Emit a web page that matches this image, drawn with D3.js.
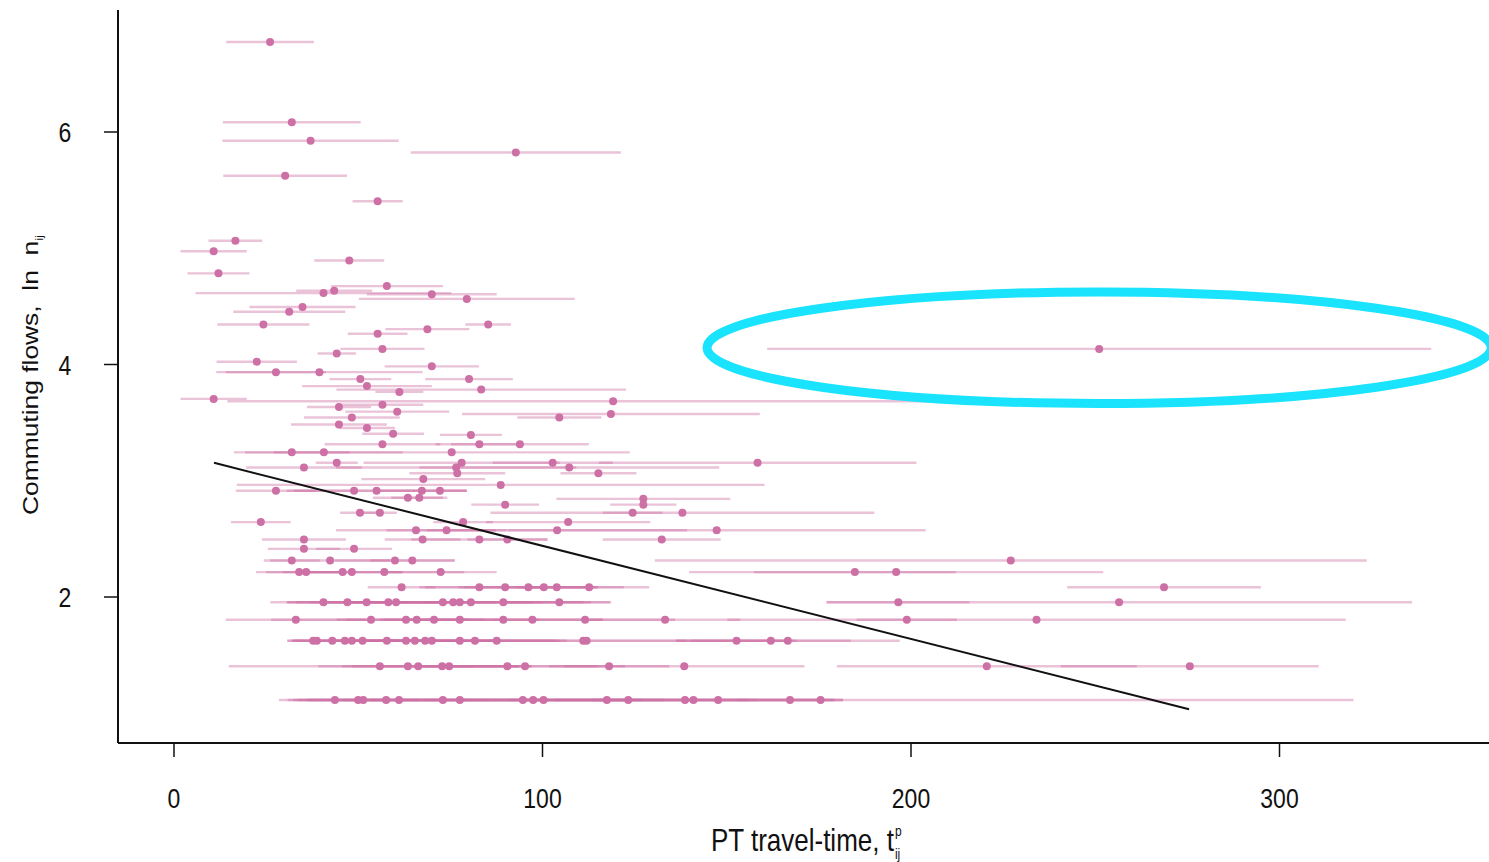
<!DOCTYPE html>
<html>
<head>
<meta charset="utf-8">
<script src="https://cdn.jsdelivr.net/npm/d3@7"></script>
<style>
  body { margin: 0; background: #fff; }
  text { font-family: "Liberation Sans", Arial, sans-serif; fill: #111; }
</style>
</head>
<body>
<div id="chart"></div>
<script>
// PT travel time of each commuting pair (point estimate)
const travelTime = [
  26.2, 32.1, 37.2, 92.9, 30.3, 55.4, 16.8, 10.9, 47.7, 12.2,
  57.9, 40.7, 43.6, 70.1, 79.6, 35.0, 31.4, 24.4, 85.4, 68.9,
  55.4, 56.7, 44.3, 22.6, 70.1, 27.8, 39.6, 50.7, 80.2, 52.5,
  83.5, 61.3, 10.9, 119.3, 44.9, 56.7, 60.7, 118.7, 104.7, 48.4,
  44.9, 52.5, 59.6, 80.7, 56.7, 83.0, 94.0, 32.1, 40.8, 75.5,
  44.3, 78.2, 102.9, 158.5, 35.4, 76.7, 107.4, 77.0, 115.3, 67.8,
  88.8, 27.8, 49.0, 55.1, 67.4, 72.3, 63.6, 66.7, 127.5, 90.0,
  127.5, 50.6, 56.0, 124.6, 138.1, 23.7, 78.6, 107.1, 65.8, 74.1,
  104.1, 147.4, 35.4, 67.6, 83.0, 90.6, 132.5, 35.4, 49.0, 32.1,
  42.5, 60.1, 64.8, 227.2, 34.1, 36.0, 45.9, 48.4, 57.2, 72.5,
  184.9, 196.1, 61.9, 83.0, 90.0, 96.3, 100.5, 104.0, 112.8, 268.8,
  40.7, 47.2, 52.4, 58.3, 60.4, 73.1, 75.9, 77.7, 80.7, 89.5,
  104.7, 196.7, 256.6, 33.2, 53.6, 63.1, 66.0, 70.7, 77.7, 89.5,
  97.4, 111.7, 133.4, 199.0, 234.2, 37.9, 38.9, 43.1, 46.5, 48.4,
  51.3, 57.9, 63.1, 65.5, 68.3, 70.1, 77.7, 81.8, 87.7, 111.2,
  112.1, 152.8, 162.1, 166.7, 56.0, 63.6, 66.4, 72.9, 74.8, 90.6,
  95.4, 118.2, 138.6, 220.7, 275.8, 43.8, 50.1, 51.5, 57.7, 61.2,
  73.1, 77.7, 94.8, 97.6, 100.4, 117.6, 123.4, 138.8, 141.1, 147.8,
  167.3, 175.6, 251.2
];

// log commuting flow, ln n_ij
const lnFlow = [
  6.77, 6.08, 5.92, 5.82, 5.62, 5.40, 5.06, 4.97, 4.89, 4.78,
  4.67, 4.61, 4.63, 4.60, 4.56, 4.49, 4.45, 4.34, 4.34, 4.30,
  4.26, 4.13, 4.09, 4.02, 3.98, 3.93, 3.93, 3.87, 3.87, 3.81,
  3.78, 3.76, 3.70, 3.68, 3.63, 3.65, 3.59, 3.57, 3.54, 3.54,
  3.48, 3.45, 3.40, 3.39, 3.31, 3.31, 3.31, 3.24, 3.24, 3.24,
  3.15, 3.15, 3.15, 3.15, 3.11, 3.11, 3.11, 3.06, 3.06, 3.01,
  2.96, 2.91, 2.91, 2.91, 2.91, 2.91, 2.85, 2.85, 2.84, 2.79,
  2.79, 2.72, 2.72, 2.72, 2.72, 2.64, 2.64, 2.64, 2.57, 2.57,
  2.57, 2.57, 2.49, 2.49, 2.49, 2.49, 2.49, 2.41, 2.41, 2.31,
  2.31, 2.31, 2.31, 2.31, 2.21, 2.21, 2.21, 2.21, 2.21, 2.21,
  2.21, 2.21, 2.08, 2.08, 2.08, 2.08, 2.08, 2.08, 2.08, 2.08,
  1.95, 1.95, 1.95, 1.95, 1.95, 1.95, 1.95, 1.95, 1.95, 1.95,
  1.95, 1.95, 1.95, 1.80, 1.80, 1.80, 1.80, 1.80, 1.80, 1.80,
  1.80, 1.80, 1.80, 1.80, 1.80, 1.62, 1.62, 1.62, 1.62, 1.62,
  1.62, 1.62, 1.62, 1.62, 1.62, 1.62, 1.62, 1.62, 1.62, 1.62,
  1.62, 1.62, 1.62, 1.62, 1.40, 1.40, 1.40, 1.40, 1.40, 1.40,
  1.40, 1.40, 1.40, 1.40, 1.40, 1.11, 1.11, 1.11, 1.11, 1.11,
  1.11, 1.11, 1.11, 1.11, 1.11, 1.11, 1.11, 1.11, 1.11, 1.11,
  1.11, 1.11, 4.13
];

// half width of the travel-time interval
const ttHalfWidth = [
  11.9, 18.7, 23.9, 28.5, 16.8, 6.8, 7.3, 9.0, 9.5, 8.4,
  15.2, 34.7, 10.3, 17.6, 29.3, 14.4, 15.2, 12.5, 6.2, 11.4,
  8.1, 11.4, 5.2, 10.9, 12.8, 13.6, 28.0, 8.4, 11.9, 17.6,
  39.3, 6.5, 9.0, 104.7, 8.7, 11.1, 14.1, 40.4, 11.4, 13.0,
  13.0, 7.6, 8.4, 8.4, 15.7, 11.9, 18.7, 15.7, 21.4, 48.3,
  5.7, 26.6, 16.3, 43.1, 15.7, 32.6, 40.7, 13.0, 10.3, 16.8,
  71.6, 10.9, 16.3, 24.4, 12.2, 7.3, 9.5, 7.6, 23.6, 9.2,
  9.0, 5.4, 4.6, 8.1, 52.1, 8.1, 8.1, 22.3, 21.7, 16.3,
  35.3, 56.7, 11.4, 10.3, 18.5, 10.9, 16.0, 9.8, 10.3, 7.6,
  16.3, 16.3, 11.4, 96.6, 11.7, 10.9, 16.3, 13.6, 21.7, 15.2,
  27.4, 56.2, 9.2, 16.3, 21.7, 19.0, 21.7, 10.9, 16.3, 26.3,
  14.4, 16.3, 21.7, 16.3, 27.1, 27.1, 21.7, 40.7, 32.6, 21.7,
  14.1, 19.3, 79.5, 19.0, 27.1, 16.3, 21.7, 13.6, 21.7, 27.1,
  19.0, 24.4, 20.4, 13.6, 83.9, 7.1, 7.9, 10.9, 13.6, 16.3,
  10.9, 13.6, 16.3, 21.7, 19.0, 16.3, 27.1, 21.7, 19.0, 54.3,
  27.1, 16.3, 21.7, 30.4, 41.0, 17.9, 27.1, 24.4, 19.0, 24.4,
  27.1, 16.3, 32.6, 40.7, 35.0, 15.2, 16.3, 19.0, 21.7, 24.4,
  27.1, 24.4, 32.6, 27.1, 32.6, 40.7, 32.6, 40.7, 38.0, 33.9,
  14.4, 144.6, 90.1
];

// fitted line, end points
const fitLine = [
  { t: 11.0, y: 3.15 },
  { t: 275.6, y: 1.03 }
];

// highlighted outlier (centre and radii in data units)
const highlight = { t: 251.2, y: 4.14, rt: 106.4, ry: 0.48 };

const xTicks = [0, 100, 200, 300];
const yTicks = [2, 4, 6];

const width = 1489;
const height = 862;
const frameLeft = 118, frameBottom = 743, frameTop = 10;

const pts = travelTime.map((t, i) => ({ t, y: lnFlow[i], e: ttHalfWidth[i] }));

const svg = d3.select("#chart")
  .append("svg")
    .attr("width", width)
    .attr("height", height)
    .style("background", "#fff");

const x = d3.scaleLinear().domain([0, 300]).range([173.5, 1279]);
const y = d3.scaleLinear().domain([2, 6]).range([596.5, 131.5]);

const pink = "rgb(205,112,165)";

// interval bars
svg.append("g")
  .selectAll("line")
  .data(pts)
  .join("line")
    .attr("x1", d => x(d.t - d.e))
    .attr("x2", d => x(d.t + d.e))
    .attr("y1", d => y(d.y))
    .attr("y2", d => y(d.y))
    .attr("stroke", pink)
    .attr("stroke-opacity", 0.42)
    .attr("stroke-width", 2.4);

// points
svg.append("g")
  .selectAll("circle")
  .data(pts)
  .join("circle")
    .attr("cx", d => x(d.t))
    .attr("cy", d => y(d.y))
    .attr("r", 4)
    .attr("fill", pink);

// regression line
svg.append("path")
  .datum(fitLine)
  .attr("d", d3.line().x(d => x(d.t)).y(d => y(d.y)))
  .attr("fill", "none")
  .attr("stroke", "#111")
  .attr("stroke-width", 2);

// frame (L shape)
svg.append("line")
  .attr("x1", frameLeft).attr("x2", frameLeft)
  .attr("y1", frameTop).attr("y2", frameBottom)
  .attr("stroke", "#111").attr("stroke-width", 2);
svg.append("line")
  .attr("x1", frameLeft).attr("x2", width)
  .attr("y1", frameBottom).attr("y2", frameBottom)
  .attr("stroke", "#111").attr("stroke-width", 2);

// axes
const gx = svg.append("g")
  .attr("transform", `translate(0,${frameBottom})`)
  .call(d3.axisBottom(x).tickValues(xTicks).tickSize(14).tickFormat(d3.format("d")));
gx.select(".domain").remove();
gx.selectAll(".tick line").attr("stroke", "#111").attr("stroke-width", 1.5);
gx.selectAll(".tick text")
  .attr("y", null).attr("dy", null)
  .attr("transform", "translate(0,65) scale(1,1.22)")
  .style("font-size", "23px")
  .attr("fill", "#111");

const gy = svg.append("g")
  .attr("transform", `translate(${frameLeft},0)`)
  .call(d3.axisLeft(y).tickValues(yTicks).tickSize(14).tickFormat(d3.format("d")));
gy.select(".domain").remove();
gy.selectAll(".tick line").attr("stroke", "#111").attr("stroke-width", 1.5);
gy.selectAll(".tick text")
  .attr("x", null).attr("dy", null)
  .attr("text-anchor", "middle")
  .attr("transform", "translate(-53,10) scale(1,1.22)")
  .style("font-size", "23px")
  .attr("fill", "#111");

// y title
const yt = svg.append("text")
  .attr("transform", "translate(38,515) rotate(-90) scale(1.2,1)")
  .style("font-size", "22px")
  .style("white-space", "pre");
yt.append("tspan").text("Commuting flows,  ln  n");
yt.append("tspan").attr("dy", 5).style("font-size", "11px").text("ij");

// x title
const xt = svg.append("text")
  .attr("transform", "translate(711,851) scale(1,1.23)")
  .style("font-size", "26px")
  .style("white-space", "pre")
  .text("PT travel-time, t");
const xtEnd = 711 + xt.node().getComputedTextLength();
svg.append("text")
  .attr("transform", `translate(${xtEnd + 1},836) scale(1,1.23)`)
  .style("font-size", "12px")
  .text("p");
svg.append("text")
  .attr("transform", `translate(${xtEnd + 1},859) scale(1,1.23)`)
  .style("font-size", "12px")
  .text("ij");

// highlight ellipse
svg.append("ellipse")
  .attr("cx", x(highlight.t))
  .attr("cy", y(highlight.y))
  .attr("rx", x(highlight.t + highlight.rt) - x(highlight.t))
  .attr("ry", y(highlight.y - highlight.ry) - y(highlight.y))
  .attr("fill", "none")
  .attr("stroke", "#19e3fd")
  .attr("stroke-width", 9);
</script>
</body>
</html>
